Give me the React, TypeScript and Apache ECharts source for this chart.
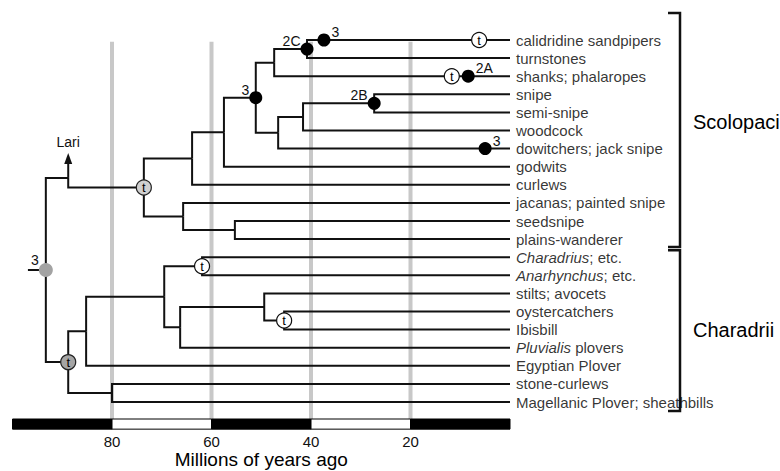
import React, { useEffect, useRef } from "react";
import * as echarts from "echarts";

// ---------- DATA ----------
const taxa: string[] = [
  "calidridine sandpipers",
  "turnstones",
  "shanks; phalaropes",
  "snipe",
  "semi-snipe",
  "woodcock",
  "dowitchers; jack snipe",
  "godwits",
  "curlews",
  "jacanas; painted snipe",
  "seedsnipe",
  "plains-wanderer",
  "Charadrius; etc.",
  "Anarhynchus; etc.",
  "stilts; avocets",
  "oystercatchers",
  "Ibisbill",
  "Pluvialis plovers",
  "Egyptian Plover",
  "stone-curlews",
  "Magellanic Plover; sheathbills",
];
const italicWords: string[] = ["Charadrius", "Anarhynchus", "Pluvialis"];

type Child = string | number;
// [id, age (Myr ago), children (tip index or clade id)]
const clades: [string, number, Child[]][] = [
  ["root", 93.3, ["lariNode", "charadrii"]],
  ["lariNode", 88.8, ["scolopaci"]],
  ["scolopaci", 73.6, ["n192", "n183"]],
  ["n192", 63.9, ["n224", 8]],
  ["n224", 57.5, ["n256", 7]],
  ["n256", 51.1, ["n274", "n278"]],
  ["n274", 47.4, ["n307", 2]],
  ["n307", 40.8, [0, 1]],
  ["n278", 46.6, ["n303", 6]],
  ["n303", 41.6, ["n374", 5]],
  ["n374", 27.3, [3, 4]],
  ["n183", 65.7, [9, "n235"]],
  ["n235", 55.3, [10, 11]],
  ["charadrii", 88.8, ["n86", "n112"]],
  ["n86", 85.2, ["n164", 18]],
  ["n164", 69.5, ["n202", "n180"]],
  ["n202", 61.9, [12, 13]],
  ["n180", 66.3, ["n264", 17]],
  ["n264", 49.4, [14, "n284"]],
  ["n284", 45.4, [15, 16]],
  ["n112", 80.0, [19, 20]],
];
const lariNodeY = 7.62;
const lariTipY = 6.24;
const lariLabel = "Lari";
const rootStubAge = 96.9;
const rootNote = "3";

// [where (clade id or tip index), age on branch (null = at the node), note, side]
const blackDots: [Child, number | null, string, "L" | "R"][] = [
  ["n256", null, "3", "L"],
  ["n307", null, "2C", "L"],
  [0, 37.4, "3", "R"],
  [2, 8.4, "2A", "R"],
  ["n374", null, "2B", "L"],
  [6, 5.0, "3", "R"],
];
const whiteT: [Child, number | null][] = [
  ["n202", null],
  ["n284", null],
  [0, 6.2],
  [2, 11.7],
];
const lightGrayT: Child[] = ["scolopaci"];
const darkGrayT: Child[] = ["charadrii"];

const tickAges: number[] = [80, 60, 40, 20];
const barBreaks: number[] = [100, 80, 60, 40, 20, 0];
const axisTitle = "Millions of years ago";

const groups: { name: string; first: number; last: number; labelY: number }[] = [
  { name: "Scolopaci", first: 0, last: 11, labelY: 4.53 },
  { name: "Charadrii", first: 12, last: 20, labelY: 16.0 },
];

// ---------- LAYOUT HELPERS ----------
const cladeMap = new Map(clades.map((c) => [c[0], c]));
const yOf = (c: Child): number => {
  if (typeof c === "number") return c;
  if (c === "lariNode") return lariNodeY;
  const kids = cladeMap.get(c)![2];
  return kids.reduce((s: number, k) => s + yOf(k), 0) / kids.length;
};
const ageOf = (c: Child): number => (typeof c === "number" ? 0 : cladeMap.get(c)![1]);

const FONT = "'Liberation Sans', Arial, Helvetica, sans-serif";
const INK = "#000";
const BAR_TOP = 20.94;
const Y_MIN = -1.5;
const Y_MAX = 21.5;

export default function App() {
  const ref = useRef<HTMLDivElement>(null);
  useEffect(() => {
    document.body.style.margin = "0";
    if (!ref.current) return;
    const chart = echarts.init(ref.current, null, { renderer: "svg" });

    const branches: number[][] = [];
    clades.forEach(([id, age, kids]) => {
      kids.forEach((k) => branches.push([age, yOf(id), ageOf(k), yOf(k)]));
    });
    const rootAge = ageOf("root");
    const rootY = yOf("root");
    branches.push([rootStubAge, rootY, rootAge, rootY]);

    const pos = (where: Child, age: number | null) => [age == null ? ageOf(where) : age, yOf(where)];

    const tipData = taxa.map((_, i) => [0, i]);
    const fmtTaxon = (s: string) => {
      let out = s;
      italicWords.forEach((w) => {
        out = out.replace(w, "{i|" + w + "}");
      });
      return out;
    };

    const tCircleLabel = { show: true, formatter: "t", position: "inside", fontSize: 13, color: INK, fontFamily: FONT };

    const option: any = {
      animation: false,
      textStyle: { fontFamily: FONT },
      grid: { left: 12.5, top: 12.85, width: 497.5, height: 416.3, containLabel: false, outerBoundsMode: "none" },
      xAxis: {
        type: "value",
        min: 0,
        max: 100,
        interval: 20,
        inverse: true,
        axisLine: { show: false },
        axisTick: { show: false },
        splitLine: { show: false },
        axisLabel: {
          margin: 6,
          fontSize: 15,
          lineHeight: 13,
          color: "#111",
          formatter: (v: number) => (tickAges.includes(v) ? String(v) : ""),
        },
        name: axisTitle,
        nameLocation: "middle",
        nameMoveOverlap: false,
        nameGap: 21,
        nameTextStyle: { fontSize: 19, lineHeight: 19, color: INK, fontFamily: FONT, verticalAlign: "top" },
      },
      yAxis: { type: "value", min: Y_MIN, max: Y_MAX, inverse: true, show: false },
      series: [
        {
          type: "custom",
          name: "gridlines",
          z: 1,
          silent: true,
          clip: false,
          data: tickAges.map((a) => [a, 0.1, BAR_TOP]),
          encode: { x: 0, y: [1, 2] },
          renderItem: (_p: any, api: any) => {
            const a = api.coord([api.value(0), api.value(1)]);
            const b = api.coord([api.value(0), api.value(2)]);
            return { type: "line", shape: { x1: a[0], y1: a[1], x2: b[0], y2: b[1] }, style: { stroke: "#c8c8c8", lineWidth: 4 } };
          },
        },
        {
          type: "custom",
          name: "timebar",
          z: 2,
          silent: true,
          clip: false,
          data: barBreaks.slice(0, -1).map((b, i) => [b, barBreaks[i + 1], i]),
          encode: { x: [0, 1] },
          renderItem: (_p: any, api: any) => {
            const a = api.coord([api.value(0), BAR_TOP]);
            const b = api.coord([api.value(1), Y_MAX]);
            const dark = api.value(2) % 2 === 0;
            return {
              type: "rect",
              shape: { x: a[0], y: a[1], width: b[0] - a[0], height: b[1] - a[1] },
              style: { fill: dark ? "#000" : "#fff", stroke: "#000", lineWidth: 1 },
            };
          },
        },
        {
          type: "custom",
          name: "branches",
          z: 3,
          silent: true,
          clip: false,
          data: branches,
          encode: { x: [0, 2], y: [1, 3] },
          renderItem: (_p: any, api: any) => {
            const p0 = api.coord([api.value(0), api.value(1)]);
            const p1 = api.coord([api.value(0), api.value(3)]);
            const p2 = api.coord([api.value(2), api.value(3)]);
            return {
              type: "polyline",
              shape: { points: [p0, p1, p2] },
              style: { stroke: "#111", lineWidth: 2, fill: null, lineJoin: "miter" },
            };
          },
        },
        {
          type: "custom",
          name: "lari",
          z: 3,
          silent: true,
          clip: false,
          data: [[ageOf("lariNode"), lariNodeY, lariTipY]],
          encode: { x: 0, y: [1, 2] },
          renderItem: (_p: any, api: any) => {
            const base = api.coord([api.value(0), api.value(1)]);
            const tip = api.coord([api.value(0), api.value(2)]);
            return {
              type: "group",
              children: [
                { type: "line", shape: { x1: base[0], y1: base[1], x2: tip[0], y2: tip[1] + 8 }, style: { stroke: "#111", lineWidth: 2 } },
                {
                  type: "polygon",
                  shape: { points: [[tip[0], tip[1]], [tip[0] - 4, tip[1] + 11], [tip[0] + 4, tip[1] + 11]] },
                  style: { fill: "#111" },
                },
                {
                  type: "text",
                  style: { text: lariLabel, x: tip[0], y: tip[1] - 11, textAlign: "center", textVerticalAlign: "middle", font: "14px " + FONT, fill: "#111" },
                },
              ],
            };
          },
        },
        {
          type: "custom",
          name: "groups",
          z: 3,
          silent: true,
          clip: false,
          data: groups.map((g, i) => [g.first, g.last, g.labelY, i]),
          encode: { y: [0, 1] },
          renderItem: (_p: any, api: any) => {
            const i = api.value(3);
            const pads = i === 0 ? [27, 8] : [7, 9];
            const top = api.coord([0, api.value(0)]);
            const bot = api.coord([0, api.value(1)]);
            const lab = api.coord([0, api.value(2)]);
            const xr = top[0] + 170;
            const xl = top[0] + 158;
            const yt = top[1] - pads[0];
            const yb = bot[1] + pads[1];
            return {
              type: "group",
              children: [
                {
                  type: "polyline",
                  shape: { points: [[xl, yt], [xr, yt], [xr, yb], [xl, yb]] },
                  style: { stroke: "#111", lineWidth: 2.5, fill: null },
                },
                {
                  type: "text",
                  style: { text: groups[i].name, x: top[0] + 183, y: lab[1], textAlign: "left", textVerticalAlign: "middle", font: "20px " + FONT, fill: INK },
                },
              ],
            };
          },
        },
        {
          type: "scatter",
          name: "tips",
          z: 4,
          silent: true,
          symbolSize: 0,
          data: tipData,
          label: {
            show: true,
            position: "right",
            distance: 6,
            fontSize: 15,
            color: INK,
            fontFamily: FONT,
            formatter: (p: any) => fmtTaxon(taxa[p.dataIndex]),
            rich: { i: { fontStyle: "italic", fontSize: 15, color: INK, fontFamily: FONT } },
          },
        },
        {
          type: "scatter",
          name: "root",
          z: 5,
          silent: true,
          symbol: "circle",
          symbolSize: 14,
          itemStyle: { color: "#a3a3a3", opacity: 1 },
          data: [
            {
              value: [rootAge, rootY],
              label: { show: true, formatter: rootNote, position: "left", distance: 0, offset: [0, -10], fontSize: 14, color: "#111", fontFamily: FONT },
            },
          ],
        },
        {
          type: "scatter",
          name: "blackDots",
          z: 5,
          silent: true,
          symbol: "circle",
          symbolSize: 13,
          itemStyle: { color: "#000", opacity: 1 },
          data: blackDots.map(([w, a, note, side]) => ({
            value: pos(w, a),
            label: {
              show: true,
              formatter: note,
              position: side === "L" ? "left" : "right",
              distance: side === "L" ? 0 : 1,
              offset: [0, -8],
              fontSize: 14,
              color: "#111",
              fontFamily: FONT,
            },
          })),
        },
        {
          type: "scatter",
          name: "whiteT",
          z: 5,
          silent: true,
          symbol: "circle",
          symbolSize: 15,
          itemStyle: { color: "#fff", borderColor: "#111", borderWidth: 1.2, opacity: 1 },
          label: tCircleLabel,
          data: whiteT.map(([w, a]) => pos(w, a)),
        },
        {
          type: "scatter",
          name: "lightGrayT",
          z: 5,
          silent: true,
          symbol: "circle",
          symbolSize: 15,
          itemStyle: { color: "#d0d0d0", borderColor: "#222", borderWidth: 1.2, opacity: 1 },
          label: tCircleLabel,
          data: lightGrayT.map((w) => pos(w, null)),
        },
        {
          type: "scatter",
          name: "darkGrayT",
          z: 5,
          silent: true,
          symbol: "circle",
          symbolSize: 15,
          itemStyle: { color: "#a5a5a5", borderColor: "#222", borderWidth: 1.2, opacity: 1 },
          label: tCircleLabel,
          data: darkGrayT.map((w) => pos(w, null)),
        },
      ],
    };
    chart.setOption(option);
    return () => chart.dispose();
  }, []);
  return <div ref={ref} style={{ width: 780, height: 471 }} />;
}
